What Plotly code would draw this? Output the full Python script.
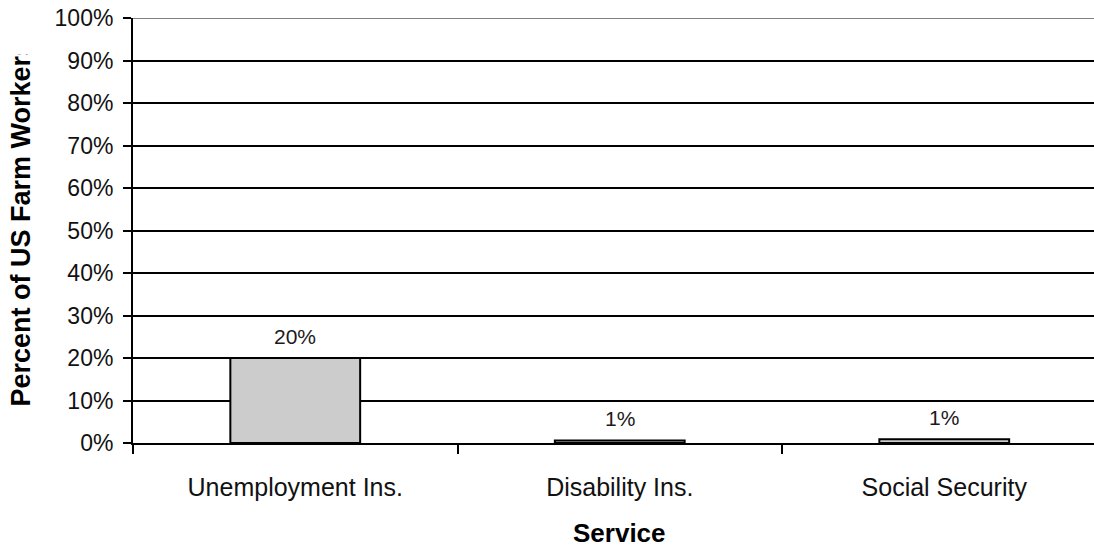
import plotly.graph_objects as go

# Share of US farm workers receiving each service
services = ["Unemployment Ins.", "Disability Ins.", "Social Security"]
share_of_workers = [0.20, 0.006, 0.009]

y_tick_values = [i / 10 for i in range(11)]
y_tick_labels = [f"{i * 10}%" for i in range(11)]

FONT = "Liberation Sans, Arial, sans-serif"
W, H = 1094, 550
L_MARGIN, T_MARGIN, B_MARGIN = 133, 18, 107
plot_w = W - L_MARGIN
plot_h = H - T_MARGIN - B_MARGIN
cat_px = 324.5  # pixels per category slot

fig = go.Figure(
    go.Bar(
        x=services,
        y=share_of_workers,
        width=0.4,
        marker=dict(color="#CCCCCC", line=dict(color="black", width=2)),
        hoverinfo="skip",
    )
)

# value labels above the bars
for s, v in zip(services, share_of_workers):
    fig.add_annotation(
        x=s, y=v, text=f"{v:.0%}", showarrow=False,
        yanchor="bottom", yshift=8,
        font=dict(family=FONT, size=21, color="#1a1a1a"),
    )

# axis titles
fig.add_annotation(
    xref="paper", yref="paper",
    x=(20 - L_MARGIN) / plot_w, y=0.5,
    xanchor="center", yanchor="middle",
    text="<b>Percent of US Farm Workers</b>", textangle=-90,
    width=352, align="left", showarrow=False,
    font=dict(family=FONT, size=27, color="black"),
)
fig.add_annotation(
    xref="paper", yref="paper",
    x=(619.75 - L_MARGIN) / plot_w, y=-(533 - (T_MARGIN + plot_h)) / plot_h,
    xanchor="center", yanchor="middle",
    text="<b>Service</b>", showarrow=False,
    font=dict(family=FONT, size=26, color="black"),
)

# grey top border of the plot area
fig.add_shape(
    type="line", xref="paper", yref="y", x0=0, x1=1, y0=1, y1=1,
    line=dict(color="#808080", width=2), layer="above",
)

fig.update_layout(
    width=W, height=H,
    margin=dict(l=L_MARGIN, r=0, t=T_MARGIN, b=B_MARGIN),
    plot_bgcolor="white", paper_bgcolor="white",
    showlegend=False,
    font=dict(family=FONT, color="black"),
)
fig.update_xaxes(
    type="category",
    range=[-0.5, -0.5 + plot_w / cat_px],
    tickson="boundaries", ticks="outside", ticklen=9, tickwidth=2, tickcolor="black",
    showline=True, linecolor="black", linewidth=2,
    showgrid=False, zeroline=False,
    tickfont=dict(family=FONT, size=25, color="#111"),
    ticklabelstandoff=21,
)
fig.update_yaxes(
    range=[0, 1],
    tickvals=y_tick_values, ticktext=y_tick_labels,
    ticks="outside", ticklen=8, tickwidth=2, tickcolor="black",
    showline=True, linecolor="black", linewidth=2,
    showgrid=True, gridcolor="black", gridwidth=2, zeroline=False,
    tickfont=dict(family=FONT, size=23, color="#111"),
    ticklabelstandoff=5,
)

fig.write_html("out.html")
